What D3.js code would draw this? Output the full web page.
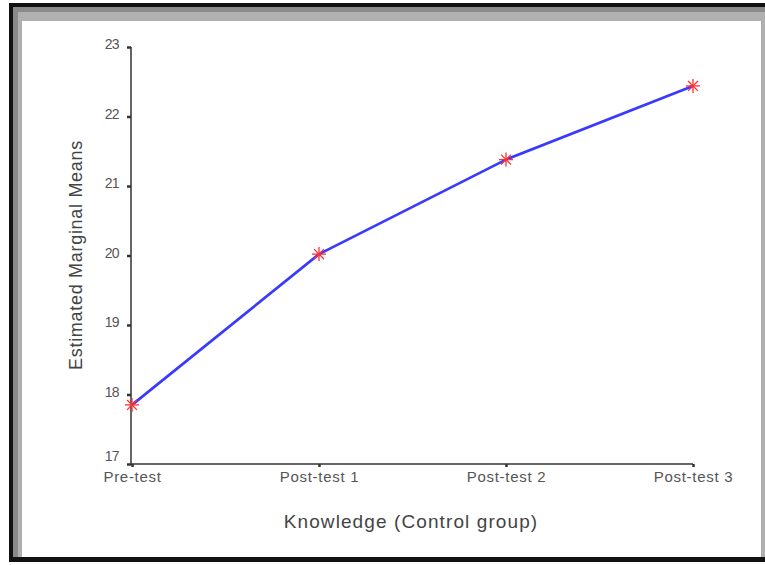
<!DOCTYPE html>
<html><head><meta charset="utf-8">
<script src="https://cdn.jsdelivr.net/npm/d3@7"></script>
<style>body{margin:0;background:#fff}svg{display:block}</style>
</head><body>
<script>
const categories = ["Pre-test", "Post-test 1", "Post-test 2", "Post-test 3"];
const means = [17.85, 20.02, 21.38, 22.44];
const yTicks = [17, 18, 19, 20, 21, 22, 23];
const xTitle = "Knowledge (Control group)";
const yTitle = "Estimated Marginal Means";

const W = 765, H = 565;
const svg = d3.select("body").append("svg").attr("width", W).attr("height", H);

// window-like frame
svg.append("rect").attr("x", 0).attr("y", 0).attr("width", W).attr("height", H).attr("fill", "#fff");
svg.append("rect").attr("x", 9).attr("y", 3).attr("width", W - 9).attr("height", 559).attr("fill", "#111");
svg.append("rect").attr("x", 13).attr("y", 7).attr("width", W - 13).attr("height", 550).attr("fill", "#8a8a8a");
svg.append("rect").attr("x", 18).attr("y", 12).attr("width", W - 18).attr("height", 545).attr("fill", "#b0b0b0");
svg.append("rect").attr("x", 22).attr("y", 21).attr("width", 739).attr("height", 536).attr("fill", "#fff");
svg.append("rect").attr("x", 21).attr("y", 557).attr("width", W - 21).attr("height", 4).attr("fill", "#111");
svg.append("rect").attr("x", 761).attr("y", 21).attr("width", 1).attr("height", 536).attr("fill", "#aaa");

const x = d3.scalePoint().domain(categories).range([132, 693]);
const y = d3.scaleLinear().domain([17, 23]).range([464, 47]);

const font = "Arial, 'Liberation Sans', sans-serif";

// y axis
const ya = svg.append("g").attr("transform", "translate(131,0)")
  .call(d3.axisLeft(y).tickValues(yTicks).tickFormat(d3.format("d")).tickSize(4).tickPadding(8));
ya.select(".domain").attr("stroke", "#333").attr("stroke-width", 1.5).attr("d", `M0,${y(17)}V${y(23)}`);
ya.selectAll(".tick line").attr("stroke", "#333").attr("stroke-width", 2.5);
ya.selectAll(".tick text").attr("font-family", font).attr("font-size", 14).attr("fill", "#555")
  .attr("letter-spacing", "-0.6px").attr("dy", d => d === 17 ? "-0.25em" : "0.12em");

// x axis
const xa = svg.append("g").attr("transform", "translate(0,464)")
  .call(d3.axisBottom(x).tickSize(3).tickPadding(4));
xa.select(".domain").attr("stroke", "#333").attr("stroke-width", 1.5).attr("d", `M131,0H693`);
xa.selectAll(".tick line").attr("stroke", "#333").attr("stroke-width", 2.5);
xa.selectAll(".tick text").attr("font-family", font).attr("font-size", 15).attr("fill", "#555").attr("letter-spacing", "0.7px");

// line
const pts = categories.map((c, i) => [x(c), y(means[i])]);
svg.append("path").attr("d", d3.line()(pts)).attr("fill", "none")
  .attr("stroke", "#3a3aff").attr("stroke-width", 2.7).attr("stroke-linejoin", "round");

// asterisk markers
const mk = svg.append("g");
pts.forEach(([px, py]) => {
  const r = 7;
  [0, 45, 90, 135].forEach(a => {
    const rad = a * Math.PI / 180;
    mk.append("line")
      .attr("x1", px - r * Math.cos(rad)).attr("y1", py - r * Math.sin(rad))
      .attr("x2", px + r * Math.cos(rad)).attr("y2", py + r * Math.sin(rad))
      .attr("stroke", "#ff3030").attr("stroke-width", 1.3);
  });
});

// titles
svg.append("text").attr("x", 411).attr("y", 528).attr("text-anchor", "middle")
  .attr("font-family", font).attr("font-size", 19).attr("fill", "#444").attr("letter-spacing", "1.1px").text(xTitle);
svg.append("text").attr("transform", "translate(82,255) rotate(-90)").attr("text-anchor", "middle")
  .attr("font-family", font).attr("font-size", 18).attr("fill", "#444").attr("letter-spacing", "0.7px").text(yTitle);
</script>
</body></html>
